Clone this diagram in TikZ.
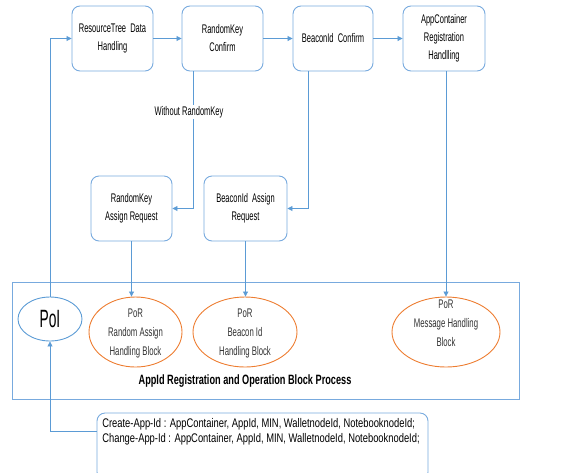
\documentclass[tikz,border=0pt]{standalone}
\usepackage{fontspec}
\setmainfont{Liberation Sans}[FakeStretch=0.75]
\newfontfamily\narrowfont{Liberation Sans}[FakeStretch=0.6]
\newfontfamily\ellfont{Liberation Sans}[FakeStretch=0.62]
\newfontfamily\titlefont{Liberation Sans}[FakeStretch=0.68]
\newfontfamily\poifont{Liberation Sans}[FakeStretch=0.55]
\usetikzlibrary{arrows.meta,shapes.geometric}

\definecolor{edgeblue}{RGB}{91,155,213}
\definecolor{boxblue}{RGB}{120,170,222}
\definecolor{porange}{RGB}{237,125,49}
\definecolor{inkgray}{RGB}{50,50,50}

\tikzset{
  stepbox/.style={draw=boxblue, line width=0.9pt, rounded corners=8pt,
    minimum height=65pt, inner sep=0pt, align=center,
    font=\narrowfont\fontsize{12.5}{18}\selectfont},
  flow/.style={draw=edgeblue, line width=0.8pt,
    -{Triangle[width=5pt,length=5pt]}},
  porell/.style={ellipse, draw=porange, line width=0.9pt, inner sep=0pt},
  portext/.style={align=center, text=inkgray, font=\ellfont\fontsize{12.5}{19}\selectfont},
  groupframe/.style={draw=boxblue, line width=1pt, inner sep=0pt,
    minimum width=507pt, minimum height=117pt},
}

\begin{document}
\begin{tikzpicture}[x=1pt,y=-1pt]
  \useasboundingbox (0,0) rectangle (564,472);
  \clip (0,0) rectangle (564,472);

  % main processing chain
  \node[stepbox, minimum width=81pt] (b1) at (112.5,38.5) {ResourceTree\ \ Data\\Handling};
  \node[stepbox, minimum width=81pt] (b2) at (222.5,38.5) {RandomKey\\Confirm};
  \node[stepbox, minimum width=80pt] (b3) at (333,38.5) {BeaconId\ \ Confirm};
  \node[stepbox, minimum width=82pt] (b4) at (444,38.5) {AppContainer\\Registration\\Handlling};

  % assign requests
  \node[stepbox, minimum width=81pt] (m1) at (131.5,208.5) {RandomKey\\Assign Request};
  \node[stepbox, minimum width=83pt] (m2) at (245.5,208.5) {BeaconId\ \ Assign\\Request};

  % block process group
  \node[groupframe] (frame) at (265.5,340.5) {};
  \node[ellipse, draw=edgeblue, line width=0.9pt, minimum width=64pt,
        minimum height=44pt, inner sep=0pt] (poi) at (50,319) {};
  \node[font=\poifont\fontsize{25}{27}\selectfont] (poit) at (50,319) {PoI};

  \node[porell, minimum width=93pt, minimum height=70pt] (por1) at (135.5,332) {};
  \node[portext] (por1t) at (135.5,333) {PoR\\Random Assign\\Handling Block};
  \node[porell, minimum width=104pt, minimum height=70pt] (por2) at (245,332) {};
  \node[portext] (por2t) at (245,333) {PoR\\Beacon Id\\Handling Block};
  \node[porell, minimum width=108pt, minimum height=70pt] (por3) at (446,332) {};
  \node[portext] (por3t) at (446,323) {PoR\\Message Handling\\Block};

  \node[font=\titlefont\bfseries\fontsize{13.5}{15}\selectfont] (title) at (245,381)
    {AppId Registration and Operation Block Process};

  % message definitions
  \node[draw=boxblue, line width=0.9pt, rounded corners=8pt, minimum width=331pt,
        minimum height=67pt, inner sep=0pt] (msg) at (262.5,446.5) {};
  \node[align=left, font=\fontsize{12.5}{15}\selectfont, inner sep=0pt] (msgt) at (261,432)
    {Create-App-Id : AppContainer, AppId, MIN, WalletnodeId, NotebooknodeId;\\
     Change-App-Id : AppContainer, AppId, MIN, WalletnodeId, NotebooknodeId;};

  % connectors
  \draw[flow] (b1) -- (b2);
  \draw[flow] (b2) -- (b3);
  \draw[flow] (b3) -- (b4);
  \draw[flow] (b2.south -| 193,0) |- (m1.east);
  \draw[flow] (b3.south -| 308,0) |- (m2.east);
  \draw[flow] (m1.south) -- (m1.south |- por1.north);
  \draw[flow] (m2.south) -- (m2.south |- por2.north);
  \draw[flow] (b4.south -| por3.north) -- (por3.north);
  \draw[flow] (poi.north) |- (b1.west);
  \draw[flow] ([yshift=-19pt]msg.north west) -| (poi.south);

  % label over the branch line
  \node[fill=white, inner sep=1.5pt, font=\narrowfont\fontsize{12.5}{14}\selectfont]
    (wrk) at (189,112) {Without RandomKey};
\end{tikzpicture}
\end{document}
